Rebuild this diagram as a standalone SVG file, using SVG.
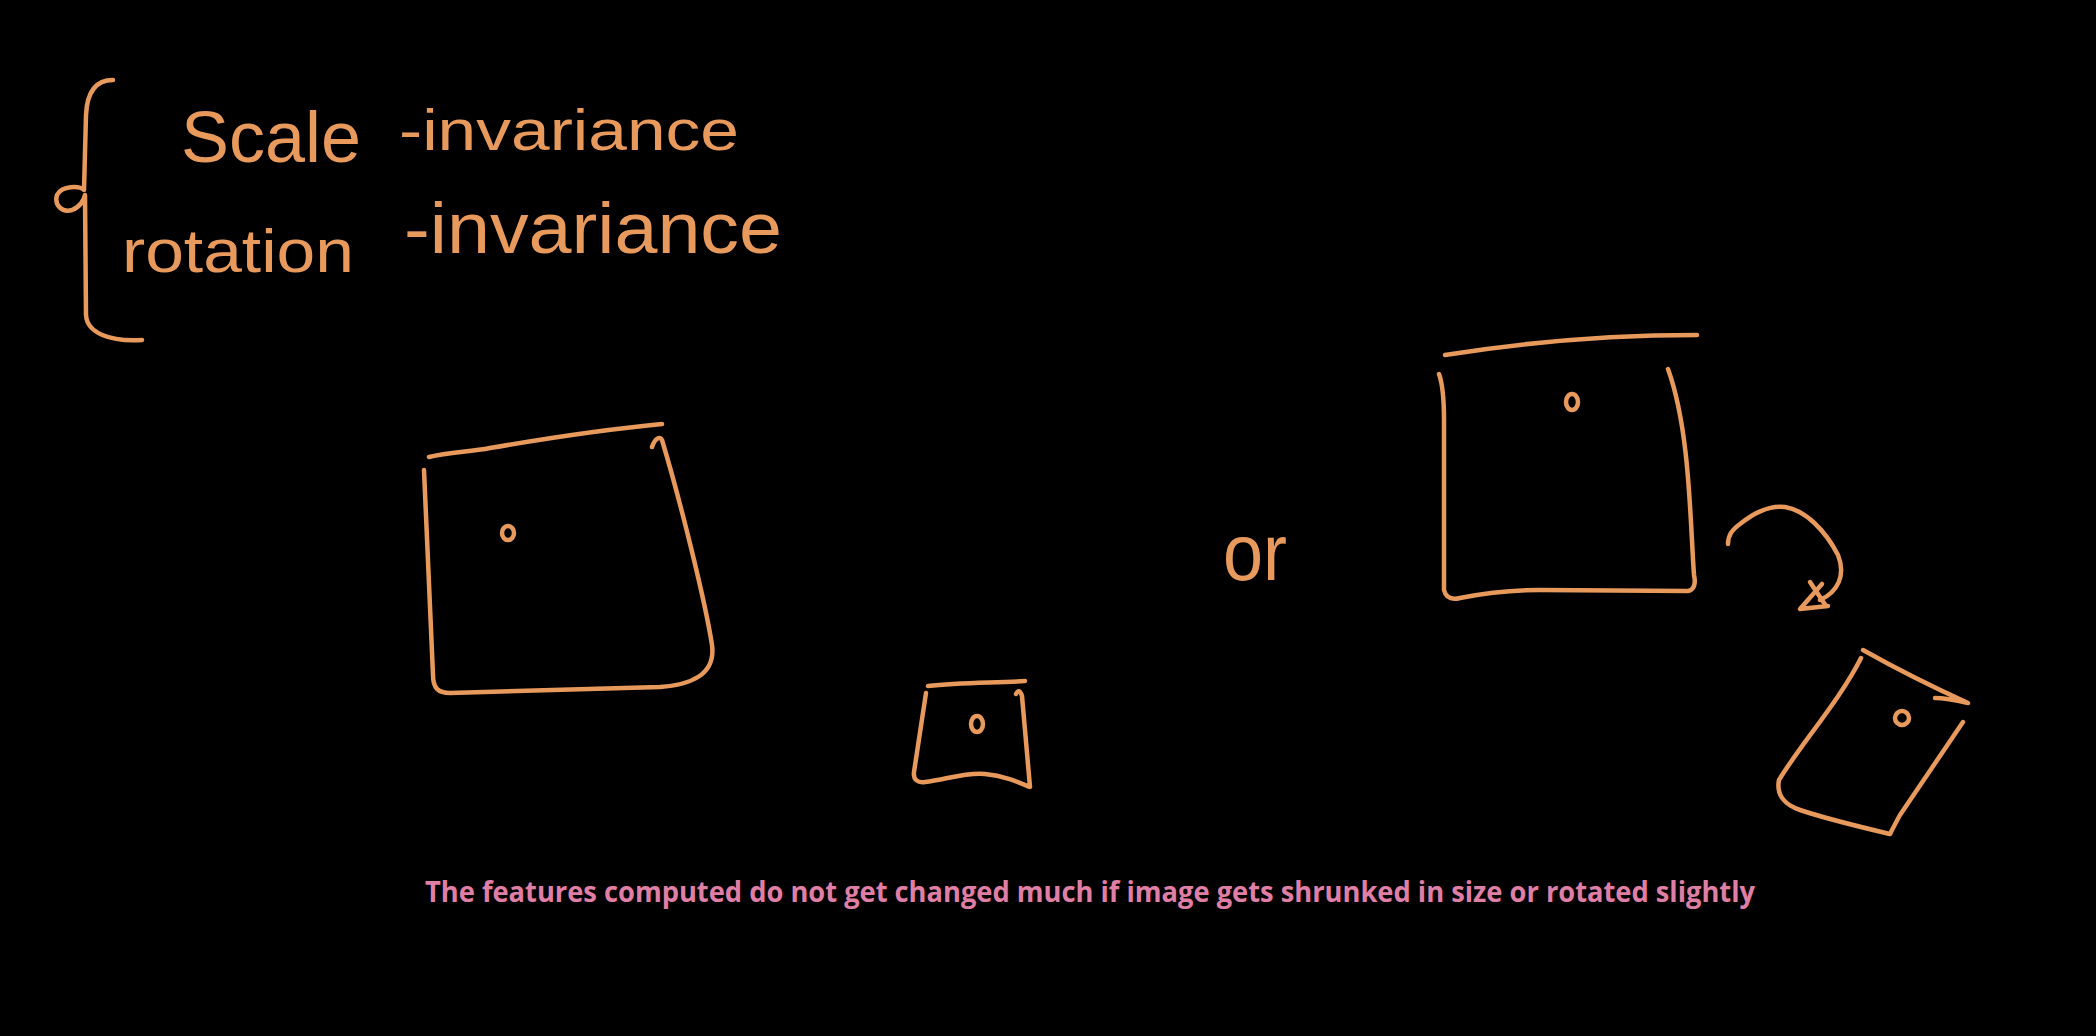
<svg xmlns="http://www.w3.org/2000/svg" width="2096" height="1036" viewBox="0 0 2096 1036">
<style>
.ink{fill:none;stroke:#e8995c;stroke-width:4.5;stroke-linecap:round;stroke-linejoin:round}
.hw{fill:#e8995c;font-family:"Liberation Sans",Arial,sans-serif;font-weight:normal}
.cap{fill:#e07fa6;font-family:"Open Sans","Liberation Sans",sans-serif;font-weight:700;font-size:28px}
</style>
<rect width="2096" height="1036" fill="#000"/>
<g id="brace"><path class="ink" d="M113,80 C96,80 87,92 86,115 L84,190 C80,186 62,185 57,195 C54,205 62,213 72,210 C80,207 84,200 85,195 L86,315 C87,333 110,342 142,340"/></g>
<g id="scale-invariance">
<text class="hw" x="181" y="162" font-size="72" textLength="180" lengthAdjust="spacingAndGlyphs">Scale</text>
<text class="hw" x="399" y="150" font-size="58" textLength="340" lengthAdjust="spacingAndGlyphs">-invariance</text>
</g>
<g id="rotation-invariance">
<text class="hw" x="122" y="272" font-size="62" textLength="232" lengthAdjust="spacingAndGlyphs">rotation</text>
<text class="hw" x="404" y="253" font-size="72" textLength="378" lengthAdjust="spacingAndGlyphs">-invariance</text>
</g>
<g id="box-large">
<path class="ink" d="M429,457 C450,452 470,452 490,448 C560,436 620,428 662,424"/>
<path class="ink" d="M652,447 C655,438 660,436 662,440 C680,500 705,600 712,645 C716,675 690,685 660,687 L450,693 C438,693 433,688 433,675 L424,470"/>
<ellipse class="ink" cx="508" cy="533" rx="6" ry="7"/>
</g>
<g id="box-small">
<path class="ink" d="M928,686 C960,682 995,683 1025,681"/>
<path class="ink" d="M926,693 L914,772 C913,780 918,783 925,782 C945,780 965,772 985,774 C1005,776 1018,782 1030,787 L1022,696 C1020,690 1018,690 1016,694"/>
<ellipse class="ink" cx="977" cy="724" rx="6" ry="8"/>
</g>
<g id="or"><text class="hw" x="1223" y="580" font-size="80" textLength="64" lengthAdjust="spacingAndGlyphs">or</text></g>
<g id="box-tall">
<path class="ink" d="M1445,355 C1520,343 1600,335 1697,335"/>
<path class="ink" d="M1439,374 C1443,385 1444,400 1444,420 L1444,590 C1446,598 1452,600 1460,598 C1490,592 1510,590 1540,590 L1688,591 C1694,590 1696,584 1694,575 C1690,520 1690,430 1668,369"/>
<ellipse class="ink" cx="1572" cy="402" rx="6" ry="8"/>
</g>
<g id="connectors">
<path class="ink" d="M1728,544 C1728,535 1732,530 1740,524 C1755,512 1770,505 1785,507 C1805,510 1825,530 1838,555 C1846,575 1838,592 1820,600"/>
<path class="ink" d="M1810,582 L1826,606 M1822,584 L1800,609 L1828,606"/>
</g>
<g id="box-rotated">
<path class="ink" d="M1863,650 C1895,668 1935,688 1968,703 C1955,700 1945,698 1935,698"/>
<path class="ink" d="M1861,658 C1840,700 1800,745 1779,780 C1776,795 1785,805 1800,810 C1830,820 1865,828 1890,834 C1892,830 1894,826 1900,815 L1963,722"/>
<ellipse class="ink" cx="1902" cy="718" rx="7" ry="7"/>
</g>
<g id="caption"><text class="cap" x="425" y="902" textLength="1330" lengthAdjust="spacingAndGlyphs">The features computed do not get changed much if image gets shrunked in size or rotated slightly</text></g>
</svg>
